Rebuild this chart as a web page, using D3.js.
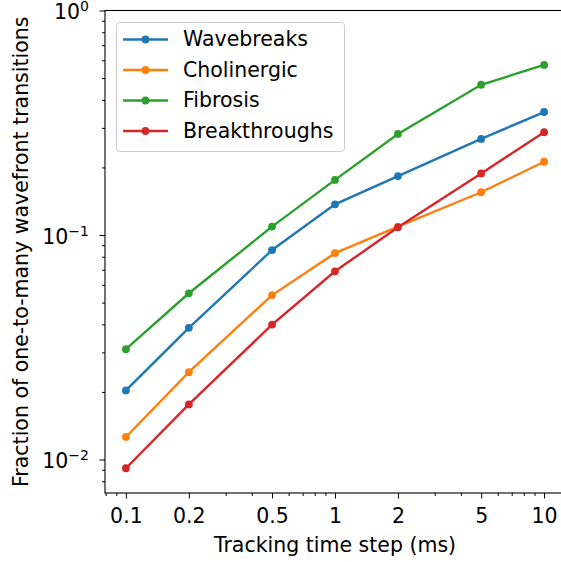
<!DOCTYPE html>
<html>
<head>
<meta charset="utf-8">
<script src="https://cdn.jsdelivr.net/npm/d3@7"></script>
<style>
  html, body { margin: 0; padding: 0; background: #fff; }
  svg { display: block; font-family: "DejaVu Sans", sans-serif; }
  .tick text { font-size: 20.5px; fill: #000; font-family: "DejaVu Sans", sans-serif; }
  .domain { display: none; }
</style>
</head>
<body>
<div id="chart"></div>
<script>
const timeSteps = [0.1, 0.2, 0.5, 1, 2, 5, 10];
const seriesNames = ['Wavebreaks', 'Cholinergic', 'Fibrosis', 'Breakthroughs'];
const seriesColors = ['#1f77b4', '#ff7f0e', '#2ca02c', '#d62728'];
const wavebreaks = [0.0203, 0.0386, 0.0857, 0.137, 0.183, 0.268, 0.353];
const cholinergic = [0.0126, 0.0245, 0.054, 0.083, 0.109, 0.155, 0.212];
const fibrosis = [0.031, 0.055, 0.109, 0.176, 0.282, 0.467, 0.572];
const breakthroughs = [0.00914, 0.0176, 0.0399, 0.0689, 0.1082, 0.188, 0.287];
const xTickLabels = ['0.1', '0.2', '0.5', '1', '2', '5', '10'];
const yMajorTicks = [0.01, 0.1, 1];
const yTickExponents = ['\u22122', '\u22121', '0'];

const allSeries = [wavebreaks, cholinergic, fibrosis, breakthroughs];

const w = 561, h = 562;
const plot = { left: 105, right: 565, top: 10.5, bottom: 493 };
const fontSize = 20.5;

const svg = d3.select('#chart').append('svg')
  .attr('width', w).attr('height', h);

const xScale = d3.scaleLog()
  .domain([Math.pow(10, -1.1), Math.pow(10, 1.1)])
  .range([plot.left, plot.right]);

const yScale = d3.scaleLog()
  .domain([Math.pow(10, -(plot.bottom - plot.top) / 224.5), 1])
  .range([plot.bottom, plot.top]);

// minor ticks
const xMinor = [];
[0.01, 0.1, 1, 10].forEach(d => {
  for (let k = 2; k <= 9; k++) {
    const v = +(d * k).toFixed(6);
    if (v > xScale.domain()[0] && v < xScale.domain()[1] && !timeSteps.includes(v)) xMinor.push(v);
  }
});
const yMinor = [];
[0.001, 0.01, 0.1].forEach(d => {
  for (let k = 2; k <= 9; k++) {
    const v = d * k;
    if (v > yScale.domain()[0] && v < 1) yMinor.push(v);
  }
});

const xAxis = d3.axisBottom(xScale)
  .tickValues(timeSteps)
  .tickFormat((d, i) => xTickLabels[i])
  .tickSize(5.5).tickPadding(9.9);

const xAxisMinor = d3.axisBottom(xScale)
  .tickValues(xMinor).tickFormat('').tickSize(3);

const yAxis = d3.axisLeft(yScale)
  .tickValues(yMajorTicks)
  .tickFormat('')
  .tickSize(5.5);

const yAxisMinor = d3.axisLeft(yScale)
  .tickValues(yMinor).tickFormat('').tickSize(3);

const gx = svg.append('g').attr('transform', 'translate(0,' + plot.bottom + ')');
gx.call(xAxis);
gx.append('g').call(xAxisMinor);
gx.selectAll('line').attr('stroke', '#000').attr('stroke-width', 1);

const gy = svg.append('g').attr('transform', 'translate(' + plot.left + ',0)');
gy.call(yAxis);
gy.append('g').call(yAxisMinor);
gy.selectAll('line').attr('stroke', '#000').attr('stroke-width', 1);

// y tick labels with superscripts
yMajorTicks.forEach((v, i) => {
  const t = svg.append('text')
    .attr('x', plot.left - 16)
    .attr('y', yScale(v) + 8.5)
    .attr('text-anchor', 'end')
    .style('font-size', fontSize + 'px')
    .attr('fill', '#000');
  t.append('tspan').text('10');
  t.append('tspan').attr('dy', -8).style('font-size', '14px').text(yTickExponents[i]);
});

// frame
svg.append('rect')
  .attr('x', plot.left).attr('y', plot.top)
  .attr('width', plot.right - plot.left).attr('height', plot.bottom - plot.top)
  .attr('fill', 'none').attr('stroke', '#000').attr('stroke-width', 1.1);

const line = d3.line()
  .x((d, i) => xScale(timeSteps[i]))
  .y(d => yScale(d));

allSeries.forEach((s, j) => {
  svg.append('path')
    .datum(s)
    .attr('d', line)
    .attr('fill', 'none')
    .attr('stroke', seriesColors[j])
    .attr('stroke-width', 2.4);
  svg.append('g').selectAll('circle')
    .data(s)
    .enter()
    .append('circle')
    .attr('cx', (d, i) => xScale(timeSteps[i]))
    .attr('cy', d => yScale(d))
    .attr('r', 3.9)
    .attr('fill', seriesColors[j]);
});

// legend
const leg = svg.append('g');
leg.append('rect')
  .attr('x', 116.5).attr('y', 22.5)
  .attr('width', 228).attr('height', 129)
  .attr('rx', 3)
  .attr('fill', '#fff').attr('fill-opacity', 0.8)
  .attr('stroke', '#ccc').attr('stroke-width', 1);
seriesNames.forEach((name, j) => {
  const yy = 39.5 + j * 30.5;
  leg.append('line')
    .attr('x1', 123).attr('x2', 168)
    .attr('y1', yy).attr('y2', yy)
    .attr('stroke', seriesColors[j]).attr('stroke-width', 2.4);
  leg.append('circle')
    .attr('cx', 145.5).attr('cy', yy).attr('r', 3.9)
    .attr('fill', seriesColors[j]);
  leg.append('text')
    .attr('x', 183).attr('y', yy + 6.5)
    .style('font-size', fontSize + 'px')
    .attr('fill', '#000')
    .text(name);
});

// axis labels
svg.append('text')
  .attr('x', (plot.left + plot.right) / 2).attr('y', 552)
  .attr('text-anchor', 'middle')
  .style('font-size', fontSize + 'px')
  .text('Tracking time step (ms)');

svg.append('text')
  .attr('transform', 'translate(28,' + (plot.top + plot.bottom) / 2 + ') rotate(-90)')
  .attr('text-anchor', 'middle')
  .style('font-size', fontSize + 'px')
  .text('Fraction of one-to-many wavefront transitions');
</script>
</body>
</html>
